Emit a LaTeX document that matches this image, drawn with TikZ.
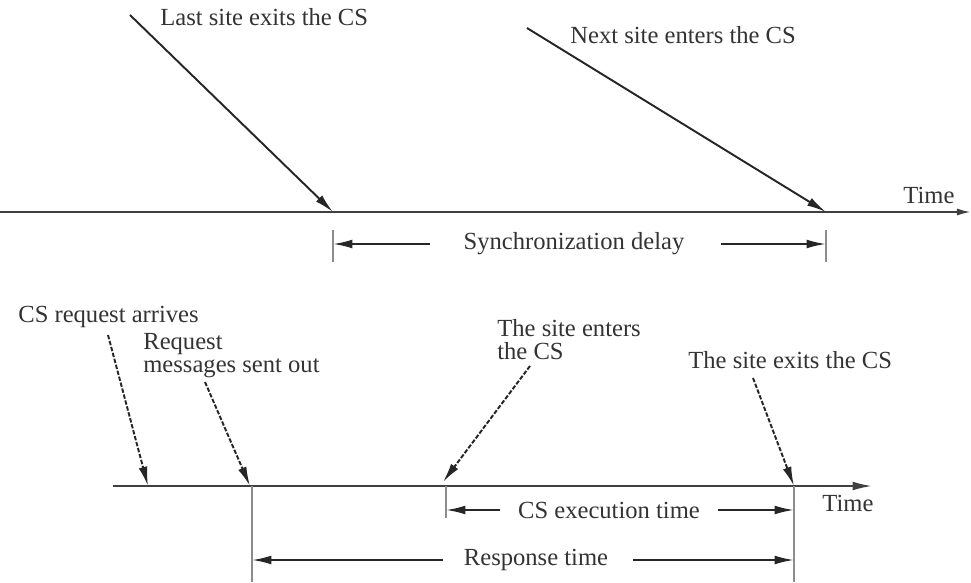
\documentclass[tikz,border=0pt]{standalone}
\usepackage{fontspec}
\setmainfont{Liberation Serif}
\usetikzlibrary{arrows.meta}
\tikzset{
  lbl/.style={font=\fontsize{14}{13}\selectfont, inner sep=0pt, text=black!80},
  ptr/.style={-{Latex[length=11pt,width=5pt]}, line width=1.1pt, draw=black!85},
  dptr/.style={ptr, dash pattern=on 2.5pt off 1pt},
  axis/.style={line width=1.1pt, draw=black!75},
  tickln/.style={line width=1.5pt, draw=black!45},
}
\begin{document}
\begin{tikzpicture}[x=0.02cm,y=-0.02cm]
    \useasboundingbox (0,0) rectangle (971,582);
    % upper time line
    \coordinate (ua) at (0,212);
    \coordinate (ub) at (971,212);
    \draw [axis,-{Latex[length=8pt,width=4pt]}] (ua)--(ub);
    \node [lbl] (utime) at (929,195) {Time};
    \node [lbl,anchor=west] (lastx) at (160,17) {Last site exits the CS};
    \node [lbl,anchor=west] (nextx) at (570,35) {Next site enters the CS};
    \coordinate (lastS) at (130,15);
    \coordinate (lastE) at (333,212);
    \coordinate (nextS) at (527,28);
    \coordinate (nextE) at (826,212);
    \draw [ptr] (lastS)--(lastE);
    \draw [ptr] (nextS)--(nextE);
    \coordinate (k1a) at (333,230);
    \coordinate (k1b) at (333,262);
    \coordinate (k2a) at (826,230);
    \coordinate (k2b) at (826,262);
    \draw [tickln] (k1a)--(k1b);
    \draw [tickln] (k2a)--(k2b);
    \node [lbl] (sync) at (574,244) {Synchronization delay};
    \coordinate (syL) at (430,244);
    \coordinate (syR) at (721,244);
    \draw [ptr] (syL)--(333,244);
    \draw [ptr] (syR)--(826,244);
    % lower time line
    \coordinate (la) at (113,486);
    \coordinate (lb) at (872,486);
    \draw [axis,-{Latex[length=11pt,width=5pt]}] (la)--(lb);
    \node [lbl] (ltime) at (848,503) {Time};
    \node [lbl,anchor=west] (arr) at (18,317) {CS request arrives};
    \node [lbl,anchor=north west,align=left] (sent) at (143,333) {Request\\messages sent out};
    \node [lbl,anchor=north west,align=left] (enter) at (497,319) {The site enters\\the CS};
    \node [lbl,anchor=west] (exit) at (688,360) {The site exits the CS};
    \coordinate (arrS) at (108,335);
    \coordinate (arrE) at (148,486);
    \coordinate (sentS) at (205,382);
    \coordinate (sentE) at (250,486);
    \coordinate (entS) at (530,366);
    \coordinate (entE) at (443,482);
    \coordinate (exS) at (753,378);
    \coordinate (exE) at (794,486);
    \draw [dptr] (arrS)--(arrE);
    \draw [dptr] (sentS)--(sentE);
    \draw [dptr] (entS)--(entE);
    \draw [dptr] (exS)--(exE);
    % bars
    \coordinate (v1a) at (252,486);
    \coordinate (v1b) at (252,582);
    \coordinate (v2a) at (446,486);
    \coordinate (v2b) at (446,518);
    \coordinate (v3a) at (794,486);
    \coordinate (v3b) at (794,582);
    \draw [tickln] (v1a)--(v1b);
    \draw [tickln] (v2a)--(v2b);
    \draw [tickln] (v3a)--(v3b);
    \node [lbl] (exec) at (609,510) {CS execution time};
    \draw [ptr] (500,510)--(446,510);
    \draw [ptr] (718,510)--(794,510);
    \node [lbl] (resp) at (536,560) {Response time};
    \draw [ptr] (443,560)--(252,560);
    \draw [ptr] (633,560)--(794,560);
\end{tikzpicture}
\end{document}
